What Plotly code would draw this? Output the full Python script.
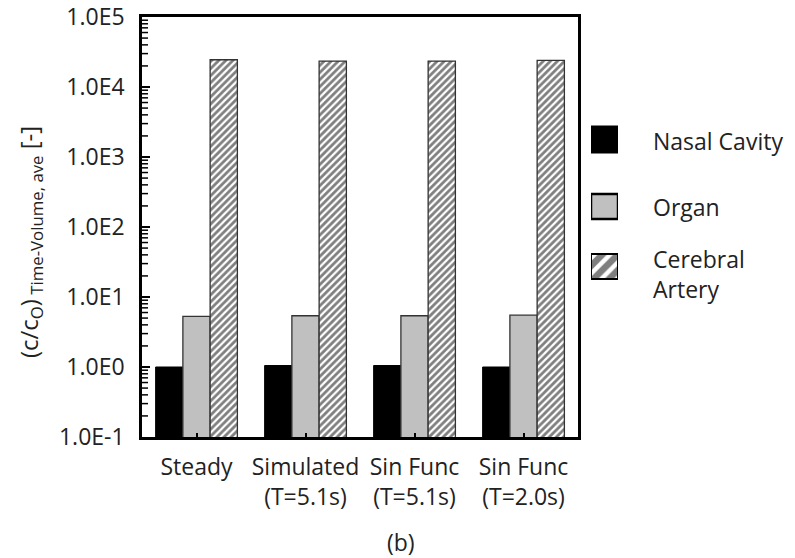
import plotly.graph_objects as go

# Time-volume averaged concentration ratio for each inlet condition
conditions = ["Steady", "Simulated<br>(T=5.1s)", "Sin Func<br>(T=5.1s)", "Sin Func<br>(T=2.0s)"]
nasal_cavity = [1.00, 1.05, 1.05, 1.00]
organ = [5.3, 5.4, 5.4, 5.5]
cerebral_artery = [24500, 23500, 23500, 24000]

series_names = ["Nasal Cavity", "Organ", "Cerebral<br>Artery"]
y_tick_vals = [1e-1, 1e0, 1e1, 1e2, 1e3, 1e4, 1e5]
y_tick_text = ["1.0E-1", "1.0E0", "1.0E1", "1.0E2", "1.0E3", "1.0E4", "1.0E5"]

FONT = "Open Sans"
FS = 23
PLOT_W = 436  # plot-area width in px

minor_vals = [m * d for d in y_tick_vals[:-1] for m in range(2, 10)]

fig = go.Figure()

fig.add_trace(go.Bar(
    x=conditions, y=nasal_cavity, name="Nasal Cavity",
    marker=dict(color="black", line=dict(color="black", width=1)),
))
fig.add_trace(go.Bar(
    x=conditions, y=organ, name="Organ",
    marker=dict(color="#c0c0c0", line=dict(color="#333333", width=1.3)),
))
fig.add_trace(go.Bar(
    x=conditions, y=cerebral_artery, name="Cerebral Artery",
    marker=dict(color="white", line=dict(color="#333333", width=1.3),
                pattern=dict(shape="/", fgcolor="black", bgcolor="white",
                             size=5, solidity=0.55)),
))

# Minor inside ticks (2..9 per decade), 5 px long, starting at the axis line
MINOR_LEN = 5
fig.add_trace(go.Scatter(
    x=[MINOR_LEN / 2 / PLOT_W] * len(minor_vals), y=minor_vals, mode="markers",
    marker=dict(symbol="line-ew", size=MINOR_LEN, line=dict(color="black", width=1.5)),
    xaxis="x3", yaxis="y3", showlegend=False, hoverinfo="skip", cliponaxis=False,
))

# Legend swatches drawn on a small side axis (pixel-like y scale)
swatch_tops = [126, 194, 254]
swatch_heights = [27, 25, 25]
swatch_styles = [
    dict(color="black", line=dict(color="black", width=1)),
    dict(color="#c0c0c0", line=dict(color="black", width=2.5)),
    dict(color="white", line=dict(color="black", width=2),
         pattern=dict(shape="/", fgcolor="black", bgcolor="white", size=11, solidity=0.6)),
]
for top, h, st in zip(swatch_tops, swatch_heights, swatch_styles):
    fig.add_trace(go.Bar(
        x=[0], y=[h], base=[top], offset=-0.5, width=1,
        marker=st, xaxis="x2", yaxis="y2", showlegend=False, hoverinfo="skip",
    ))

label_y = [141, 207, 274]
annotations = [
    dict(text=n, x=0.7916, xref="paper", y=ly, yref="y2", xanchor="left",
         yanchor="middle", showarrow=False, align="left",
         font=dict(family=FONT, size=FS, color="#222"))
    for n, ly in zip(series_names, label_y)
]
annotations.append(dict(
    text="(c/c<sub>O</sub>)<sub> Time-Volume, ave</sub> [-]",
    x=-0.174, xref="paper", y=242, yref="y2", textangle=-90,
    xanchor="center", yanchor="middle", showarrow=False,
    font=dict(family=FONT, size=24, color="#222")))
annotations.append(dict(
    text="(b)", x=0.4028, xref="paper", y=-0.25, yref="paper",
    xanchor="center", yanchor="middle", showarrow=False,
    font=dict(family=FONT, size=23, color="#222")))

fig.update_layout(
    width=795, height=558,
    margin=dict(l=142, r=10, t=17, b=121, autoexpand=False),
    paper_bgcolor="white", plot_bgcolor="white",
    barmode="group", bargap=0.25, bargroupgap=0,
    showlegend=False,
    font=dict(family=FONT, size=FS, color="#222"),
    xaxis=dict(
        domain=[0, 0.6781], type="category", automargin=False,
        showline=True, linecolor="black", linewidth=2.5, mirror=True,
        ticks="inside", ticklen=4, tickcolor="black", tickwidth=1.5,
        ticklabelstandoff=8, showgrid=False,
        tickfont=dict(family=FONT, size=FS, color="#222"),
    ),
    yaxis=dict(
        type="log", range=[-1, 5], automargin=False,
        tickmode="array", tickvals=y_tick_vals, ticktext=y_tick_text,
        showline=True, linecolor="black", linewidth=2.5, mirror=True,
        ticks="inside", ticklen=8, tickcolor="black", tickwidth=2,
        ticklabelstandoff=10, showgrid=False, zeroline=False,
        tickfont=dict(family=FONT, size=FS, color="#222"),
    ),
    xaxis3=dict(range=[0, 1], overlaying="x", visible=False, automargin=False,
                anchor="y3", fixedrange=True),
    yaxis3=dict(type="log", range=[-1, 5], overlaying="y", visible=False,
                automargin=False, anchor="x3", fixedrange=True),
    xaxis2=dict(domain=[0.6983, 0.7403], range=[-0.5, 0.5], visible=False,
                automargin=False, anchor="y2", fixedrange=True),
    yaxis2=dict(domain=[0, 1], range=[437, 17], visible=False,
                automargin=False, anchor="x2", fixedrange=True),
    annotations=annotations,
)

fig.write_html("out.html")
